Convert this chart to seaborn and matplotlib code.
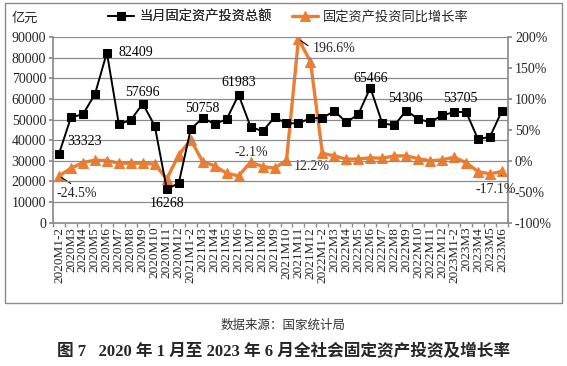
import matplotlib
matplotlib.use("Agg")
import matplotlib.pyplot as plt
import seaborn as sns
import pandas as pd
import numpy as np
from matplotlib.patches import Rectangle

# ---------------- data ----------------
months = ["2020M1-2", "2020M3", "2020M4", "2020M5", "2020M6", "2020M7", "2020M8", "2020M9",
          "2020M10", "2020M11", "2020M12",
          "2021M1-2", "2021M3", "2021M4", "2021M5", "2021M6", "2021M7", "2021M8", "2021M9",
          "2021M10", "2021M11", "2021M12",
          "2022M1-2", "2022M3", "2022M4", "2022M5", "2022M6", "2022M7", "2022M8", "2022M9",
          "2022M10", "2022M11", "2022M12",
          "2023M1-2", "2023M3", "2023M4", "2023M5", "2023M6"]
total = [33323, 51090, 52540, 62240, 82409, 47700, 49780, 57696, 46870, 16268, 19100,
         45236, 50758, 47840, 50100, 61983, 46530, 44300, 51000, 48180, 48180, 50600,
         50763, 54140, 48660, 52540, 65466, 48180, 47200, 54306, 50270, 48660, 52060,
         53577, 53705, 40420, 41690, 54298]
growth = [-24.5, -12.0, -2.9, 1.0, 0.3, -3.9, -3.9, -3.9, -5.5, -29.3, 9.5,
          34.0, -1.3, -8.2, -20.0, -24.4, -2.1, -9.3, -11.8, 0.5, 196.6, 160.4,
          12.2, 7.9, 2.6, 3.1, 4.7, 4.2, 7.9, 7.9, 3.6, 0.0, 1.5,
          5.8, -2.9, -17.5, -21.2, -17.1]
left_ticks = [0, 10000, 20000, 30000, 40000, 50000, 60000, 70000, 80000, 90000]
right_ticks = [-100, -50, 0, 50, 100, 150, 200]
series_total = "当月固定资产投资总额"
series_growth = "固定资产投资同比增长率"
unit_label = "亿元"
source_text = "数据来源：国家统计局"
title_text = "图 7   2020 年 1 月至 2023 年 6 月全社会固定资产投资及增长率"

df = pd.DataFrame({"month": months, "total": total, "growth": growth})

# ---------------- style ----------------
sns.set_theme(style="white")
plt.rcParams["font.family"] = ["Liberation Serif", "Noto Sans CJK SC"]
SERIF = ["Liberation Serif", "Noto Sans CJK SC"]
CJK = ["Noto Sans CJK SC", "DejaVu Sans"]
GRID = "#8c8c8c"
ORANGE = "#ED7D31"
PX = 0.72  # points per pixel at 100 dpi

fig = plt.figure(figsize=(5.67, 3.66), dpi=100)
fig.patch.set_facecolor("white")
W, H = 567, 366
ax = fig.add_axes([53 / W, 1 - 222.7 / H, (508 - 53) / W, (222.7 - 37) / H])

# outer frame
fig.add_artist(Rectangle((5 / W, 1 - 303 / H), (562 - 5) / W, (303 - 3) / H,
                         transform=fig.transFigure, fill=False, edgecolor="#8c8c8c",
                         linewidth=1.0))

sns.lineplot(data=df, x="month", y="total", ax=ax, color="black", linewidth=1.4,
             marker="s", markersize=6, markeredgecolor="black", sort=False,
             label=series_total, legend=False)
ax2 = ax.twinx()
sns.lineplot(data=df, x="month", y="growth", ax=ax2, color=ORANGE, linewidth=2.4,
             marker="^", markersize=7.5, markeredgecolor=ORANGE, sort=False,
             label=series_growth, legend=False)
ax.set_zorder(ax2.get_zorder() + 1)
ax.patch.set_visible(False)

n = len(months)
ax.set_xlim(-0.5, n - 0.5)
ax.set_ylim(0, 90000)
ax2.set_ylim(-100, 200)
ax.set_yticks(left_ticks)
ax.set_yticklabels([str(v) for v in left_ticks])
ax2.set_yticks(right_ticks)
ax2.set_yticklabels([f"{v}%" for v in right_ticks])
ax.set_xticks(range(n))
ax.set_xticklabels(months, rotation=90)
ax.set_xticks(np.arange(-0.5, n, 1.0), minor=True)
ax.set_xlabel("")
ax.set_ylabel("")
ax2.set_ylabel("")

ax.yaxis.grid(True, color=GRID, linewidth=0.9)
ax.set_axisbelow(True)
for a in (ax, ax2):
    for s in a.spines.values():
        s.set_visible(False)
ax.spines["left"].set_visible(True)
ax.spines["left"].set_color(GRID)
ax.spines["bottom"].set_visible(True)
ax.spines["bottom"].set_color(GRID)
ax2.spines["right"].set_visible(True)
ax2.spines["right"].set_color(GRID)

ax.tick_params(axis="y", which="major", length=3, color=GRID, labelsize=10, pad=2)
ax2.tick_params(axis="y", which="major", length=3, color=GRID, labelsize=10, pad=2)
ax.tick_params(axis="x", which="major", length=0, labelsize=9.5, pad=3)
ax.tick_params(axis="x", which="minor", length=3, color=GRID, bottom=True)
ax2.tick_params(axis="x", which="both", length=0)
for lab in ax.get_xticklabels() + ax.get_yticklabels() + ax2.get_yticklabels():
    lab.set_family(SERIF)

# ---------------- annotations ----------------
def idx(m):
    return months.index(m)

fs = 10
# offsets in pixels (dx, dy), horizontal alignment
lab_total = {
    "2020M1-2": (8, 12, "left"),
    "2020M6": (12, 0, "left"),
    "2020M9": (0, 11.5, "center"),
    "2020M11": (0, -14, "center"),
    "2021M3": (0, 9, "center"),
    "2021M6": (0, 12.5, "center"),
    "2022M6": (0, 9, "center"),
    "2022M9": (-1, 12, "center"),
    "2023M3": (-6, 13, "center"),
}
for m, (dx, dy, ha) in lab_total.items():
    v = total[idx(m)]
    ax.annotate(str(v), xy=(idx(m), v), xytext=(dx * PX, dy * PX), textcoords="offset points",
                ha=ha, va="center", fontsize=fs, family=SERIF, color="black")

# growth labels
ax2.annotate("-24.5%", xy=(idx("2020M1-2"), growth[0]), xytext=(18 * PX, -18 * PX),
             textcoords="offset points", ha="center", va="center", fontsize=fs, family=SERIF,
             arrowprops=dict(arrowstyle="-", color="black", lw=0.8, shrinkA=1, shrinkB=2,
                             relpos=(0.5, 1.0)))
ax2.annotate("-2.1%", xy=(idx("2021M7"), growth[idx("2021M7")]), xytext=(1 * PX, 9.6 * PX),
             textcoords="offset points", ha="center", va="center", fontsize=fs, family=SERIF)
ax2.annotate("196.6%", xy=(idx("2021M11"), growth[idx("2021M11")]), xytext=(14 * PX, -9.5 * PX),
             textcoords="offset points", ha="left", va="center", fontsize=fs, family=SERIF,
             arrowprops=dict(arrowstyle="-", color="black", lw=0.8, shrinkA=1, shrinkB=2,
                             relpos=(0.0, 0.5)))
ax2.annotate("12.2%", xy=(idx("2022M1-2"), growth[idx("2022M1-2")]), xytext=(-11 * PX, -13 * PX),
             textcoords="offset points", ha="center", va="center", fontsize=fs, family=SERIF)
ax2.annotate("-17.1%", xy=(idx("2023M6"), growth[idx("2023M6")]), xytext=(-6 * PX, -18 * PX),
             textcoords="offset points", ha="center", va="center", fontsize=fs, family=SERIF,
             arrowprops=dict(arrowstyle="-", color="black", lw=0.8, shrinkA=3, shrinkB=3,
                             relpos=(0.6, 1.0)))

# legends / unit label
h1, l1 = ax.get_legend_handles_labels()
h2, l2 = ax2.get_legend_handles_labels()
leg_kw = dict(frameon=False, prop={"family": CJK, "size": 9.5}, handlelength=2.0,
              handletextpad=0.35, borderpad=0, borderaxespad=0)
leg1 = fig.legend(h1, l1, loc="center left", bbox_to_anchor=(108 / W, 1 - 17 / H), **leg_kw)
fig.legend(h2, l2, loc="center left", bbox_to_anchor=(292 / W, 1 - 17 / H), **leg_kw)
fig.add_artist(leg1)
fig.text(12 / W, 1 - 18 / H, unit_label, family=CJK, fontsize=9.5, ha="left", va="center")

fig.text(0.5, 1 - 325 / H, source_text, family=CJK, fontsize=9, ha="center", va="center",
         color="#333333")
fig.text(0.5, 1 - 352 / H, title_text, family=SERIF,
         fontsize=12, fontweight="bold", ha="center", va="center")

fig.savefig("out.png", dpi=100, facecolor="white")
